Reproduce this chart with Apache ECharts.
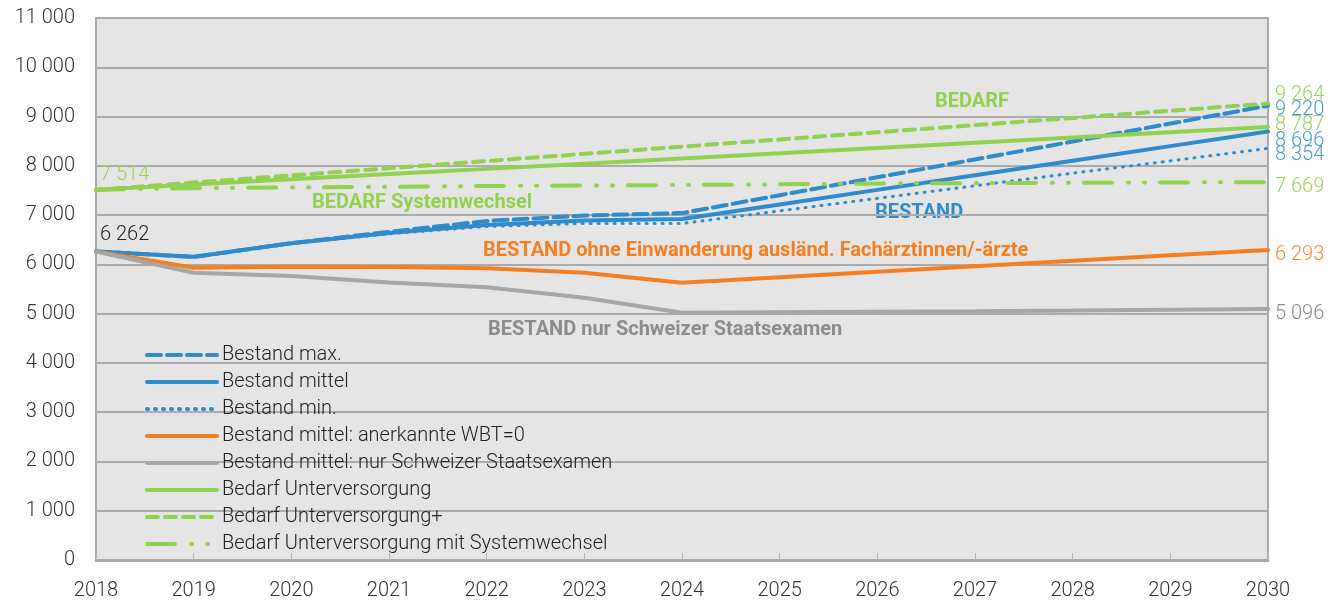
<!DOCTYPE html>
<html>
<head>
<meta charset="utf-8">
<script src="https://cdn.jsdelivr.net/npm/echarts@6/dist/echarts.min.js"></script>
<style>
  html, body { margin: 0; padding: 0; background: #fff; }
  #chart { width: 1335px; height: 602px; }
</style>
</head>
<body>
<div id="chart"></div>
<script>
// Jahre und Werte
var years = ['2018', '2019', '2020', '2021', '2022', '2023', '2024', '2025', '2026', '2027', '2028', '2029', '2030'];
var bestandMax = [6262, 6150, 6430, 6660, 6880, 6990, 7040, 7403, 7767, 8130, 8493, 8857, 9220];
var bestandMittel = [6262, 6156, 6428, 6637, 6800, 6890, 6920, 7216, 7512, 7808, 8104, 8400, 8696];
var bestandMin = [6262, 6150, 6420, 6620, 6770, 6830, 6830, 7085, 7340, 7595, 7850, 8100, 8354];
var bestandWbt0 = [6262, 5933, 5953, 5945, 5920, 5830, 5628, 5739, 5850, 5961, 6072, 6183, 6293];
var bestandCh = [6262, 5830, 5764, 5630, 5535, 5324, 5020, 5030, 5040, 5050, 5062, 5080, 5096];
var bedarfUnter = [7514, 7620, 7726, 7832, 7938, 8044, 8150, 8257, 8363, 8469, 8575, 8681, 8787];
var bedarfUnterPlus = [7514, 7660, 7806, 7951, 8097, 8243, 8389, 8535, 8681, 8826, 8972, 9118, 9264];
var bedarfSystem = [7514, 7545, 7560, 7575, 7590, 7600, 7610, 7625, 7640, 7650, 7655, 7662, 7669];
var yTicks = [0, 1000, 2000, 3000, 4000, 5000, 6000, 7000, 8000, 9000, 10000, 11000];

var blue = '#2f8bcc', orange = '#f57f20', grey = '#a6a6a6', green = '#92d050';
var greenTxt = '#9bd35e';
var FS = 20;

function fmt(v) {
  return String(Math.round(v)).replace(/\B(?=(\d{3})+(?!\d))/g, ' ');
}

var chart = echarts.init(document.getElementById('chart'));

function mkSeries(name, data, color, type, width, endOffsetY, labelColor, startLabel) {
  return {
    name: name,
    type: 'line',
    symbol: 'circle',
    symbolSize: 0,
    showSymbol: true,
    data: data.map(function (v, i) {
      if (i === 0 && startLabel) {
        return {
          value: v,
          label: {
            show: true, position: 'top', align: 'left',
            offset: startLabel.offset,
            color: startLabel.color, fontSize: FS, fontWeight: 300,
            fontFamily: 'Roboto',
            formatter: function (p) { return fmt(p.value); }
          }
        };
      }
      return v;
    }),
    lineStyle: { color: color, width: width, type: type, cap: 'round' },
    itemStyle: { color: color },
    z: 3,
    endLabel: {
      show: true,
      distance: 7,
      offset: [0, endOffsetY],
      color: labelColor,
      fontSize: FS,
      fontWeight: 300,
      fontFamily: 'Roboto',
      formatter: function (p) { return fmt(p.value); }
    },
    emphasis: { disabled: true }
  };
}

var option = {
  animation: false,
  backgroundColor: '#fff',
  textStyle: { fontFamily: 'Roboto' },
  grid: {
    left: 96, right: 67, top: 18, bottom: 42,
    show: true,
    backgroundColor: '#e5e5e5',
    borderColor: '#ababab',
    borderWidth: 2
  },
  legend: {
    orient: 'vertical',
    left: 145,
    top: 345,
    padding: 0,
    itemWidth: 70,
    itemHeight: 14,
    itemGap: 7,
    itemStyle: { opacity: 0 },
    lineStyle: { width: 4 },
    textStyle: { fontSize: FS, fontWeight: 300, color: '#222', fontFamily: 'Roboto' },
    data: ['Bestand max.', 'Bestand mittel', 'Bestand min.', 'Bestand mittel: anerkannte WBT=0',
      'Bestand mittel: nur Schweizer Staatsexamen', 'Bedarf Unterversorgung',
      'Bedarf Unterversorgung+', 'Bedarf Unterversorgung mit Systemwechsel']
  },
  xAxis: {
    type: 'category',
    data: years,
    boundaryGap: false,
    axisLine: { lineStyle: { color: '#a9a9a9', width: 3 } },
    axisTick: { inside: true, length: 7, lineStyle: { color: '#b5b5b5', width: 1 } },
    axisLabel: { fontSize: FS, fontWeight: 300, color: '#333', margin: 21, fontFamily: 'Roboto' },
    splitLine: { show: false }
  },
  yAxis: {
    type: 'value',
    min: yTicks[0],
    max: yTicks[yTicks.length - 1],
    interval: 1000,
    axisLine: { show: false },
    axisTick: { show: false },
    axisLabel: { fontSize: FS, fontWeight: 300, color: '#333', margin: 21, fontFamily: 'Roboto', formatter: fmt },
    splitLine: { lineStyle: { color: '#ababab', width: 2 } }
  },
  series: [
    mkSeries('Bestand max.', bestandMax, blue, [14, 6], 4, 4, '#4a9bd6'),
    mkSeries('Bestand mittel', bestandMittel, blue, 'solid', 4, 9, '#4a9bd6'),
    mkSeries('Bestand min.', bestandMin, blue, [1, 7], 3, 7, '#4a9bd6'),
    mkSeries('Bestand mittel: anerkannte WBT=0', bestandWbt0, orange, 'solid', 4, 5, '#f5893a'),
    mkSeries('Bestand mittel: nur Schweizer Staatsexamen', bestandCh, grey, 'solid', 4, 5, '#8a8a8a'),
    mkSeries('Bedarf Unterversorgung', bedarfUnter, green, 'solid', 4, -2, greenTxt,
      { offset: [4, 0], color: greenTxt }),
    mkSeries('Bedarf Unterversorgung+', bedarfUnterPlus, green, [11, 7], 4, -9, greenTxt),
    mkSeries('Bedarf Unterversorgung mit Systemwechsel', bedarfSystem, green, [28, 16, 1, 15, 1, 15], 4, 5, greenTxt),
    // Startwert Bestand (schwarz beschriftet)
    {
      name: 'start',
      type: 'line',
      symbol: 'circle',
      symbolSize: 0,
      data: [{
        value: bestandMittel[0],
        label: {
          show: true, position: 'top', align: 'left', offset: [4, -1],
          color: '#222', fontSize: FS, fontWeight: 300, fontFamily: 'Roboto',
          formatter: function (p) { return fmt(p.value); }
        }
      }],
      lineStyle: { width: 0 },
      silent: true
    }
  ],
  graphic: [
    { type: 'text', left: 935, top: 92, style: { text: 'BEDARF', fill: green, font: 'bold 20px Roboto' } },
    { type: 'text', left: 312, top: 193, style: { text: 'BEDARF Systemwechsel', fill: green, font: 'bold 20px Roboto' } },
    { type: 'text', left: 875, top: 203, style: { text: 'BESTAND', fill: blue, font: 'bold 20px Roboto' } },
    { type: 'text', left: 483, top: 241, style: { text: 'BESTAND ohne Einwanderung ausländ. Fachärztinnen/-ärzte', fill: orange, font: 'bold 20px Roboto' } },
    { type: 'text', left: 488, top: 320, style: { text: 'BESTAND nur Schweizer Staatsexamen', fill: '#8c8c8c', font: 'bold 20px Roboto' } }
  ]
};

chart.setOption(option);
</script>
</body>
</html>
